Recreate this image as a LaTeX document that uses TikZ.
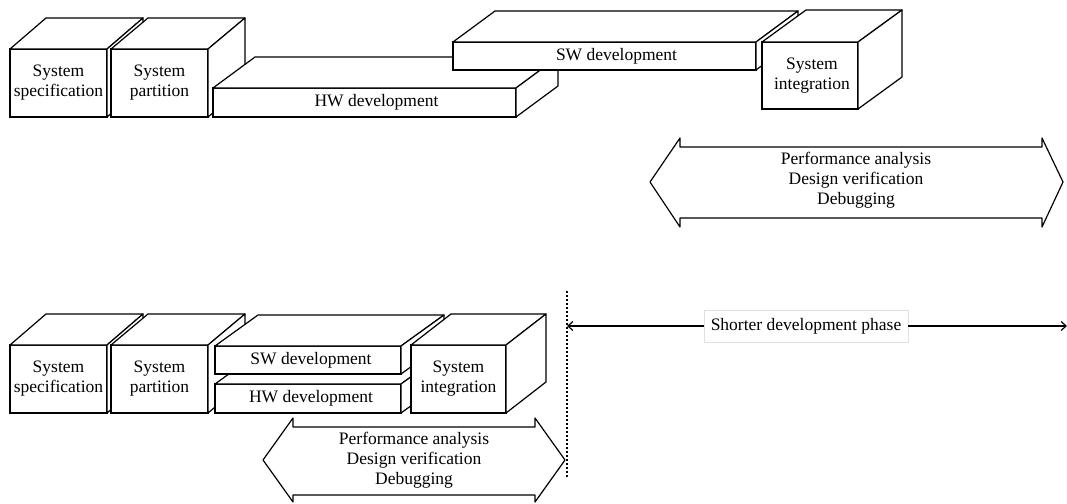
\documentclass[tikz,border=0pt]{standalone}
\usepackage{fontspec}
\setmainfont{Liberation Serif}
\usetikzlibrary{arrows.meta,shadows}

\tikzset{
  lbl/.style={font=\fontsize{17.5}{20}\selectfont, align=center, inner sep=0pt},
  face/.style={draw, fill=white, line width=1.2pt, inner sep=0pt, outer sep=0pt},
  side/.style={draw, fill=white, line width=1.2pt, line join=round},
  bigarrow/.style={draw, fill=white, line width=1.2pt, line join=round},
  divider/.style={line width=1.2pt, dash pattern=on 2pt off 2pt},
  spanline/.style={line width=1.2pt, -{Straight Barb[length=5pt,width=9pt]}},
  spanlabel/.style={lbl, fill=white, draw=black!12, line width=0.5pt,
    minimum width=204pt, minimum height=32pt,
    drop shadow={shadow xshift=1.2pt, shadow yshift=-1.2pt, opacity=0.3}},
}

% 3-D block: front face node plus top and right faces
% #1 name, #2/#3 centre, #4 width, #5 height, #6/#7 depth, #8 text shift, #9 text
\newcommand\blockbox[9]{%
  \node[face, minimum width=#4pt, minimum height=#5pt] (#1) at (#2,#3) {};
  \draw[side] (#1.north west) -- ++(#6,-#7) -- ++(#4,0) -- (#1.north east) -- cycle;
  \draw[side] (#1.north east) -- ++(#6,-#7) -- ++(0,#5) -- (#1.south east) -- cycle;
  \node[lbl] (#1-text) at ([xshift=#8pt]#1.center) {#9};
}

\begin{document}
\begin{tikzpicture}[x=1pt, y=-1pt]
\useasboundingbox (0,0) rectangle (1067,503);

% ---- sequential flow ----
\blockbox{specA}{58.5}{83}{97}{68}{36}{31}{0}{System\\specification}
\blockbox{partA}{159.5}{83}{97}{68}{37}{31}{0}{System\\partition}
\blockbox{hwA}{364.5}{102.5}{303}{29}{42}{31}{12}{HW development}
\blockbox{swA}{604.5}{56}{303}{28}{42}{31}{12}{SW development}
\blockbox{intA}{810}{75.5}{96}{67}{44}{32}{2}{System\\integration}

\draw[bigarrow] (650,182) -- (680,138) -- (680,147) -- (1042,147) -- (1042,138)
  -- (1063,182) -- (1042,227) -- (1042,218) -- (680,218) -- (680,227) -- cycle;
\node[lbl] (tasksA) at (856,180) {Performance analysis\\Design verification\\Debugging};

% ---- concurrent flow ----
\blockbox{specB}{58.5}{379}{97}{68}{36}{31}{0}{System\\specification}
\blockbox{partB}{159.5}{379}{97}{68}{37}{31}{0}{System\\partition}
\blockbox{hwB}{308}{398.5}{186}{29}{43}{31}{3}{HW development}
\blockbox{swB}{308}{360}{186}{28}{43}{31}{3}{SW development}
\blockbox{intB}{458.5}{379}{95}{68}{40}{31}{0}{System\\integration}

\draw[bigarrow] (263,460) -- (293,418) -- (293,427) -- (535,427) -- (535,418)
  -- (565,460) -- (535,502) -- (535,495) -- (293,495) -- (293,502) -- cycle;
\node[lbl] (tasksB) at (414,460) {Performance analysis\\Design verification\\Debugging};

% ---- time saved ----
\coordinate (cutTop) at (567,291);
\coordinate (cutBot) at (567,478);
\draw[divider] (cutTop) -- (cutBot);

\coordinate (spanL) at (567,326);
\coordinate (spanR) at (1067,326);
\node[spanlabel] (phase) at (806,326) {Shorter development phase};
\draw[spanline] (phase.west) -- (spanL);
\draw[spanline] (phase.east) -- (spanR);
\end{tikzpicture}
\end{document}
